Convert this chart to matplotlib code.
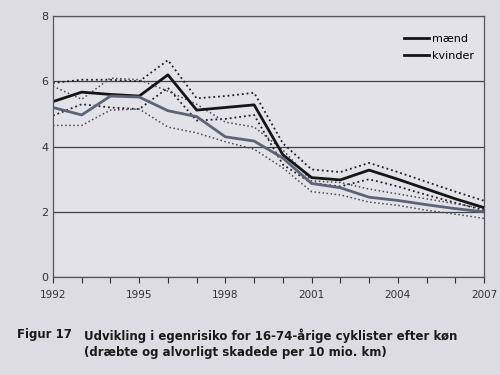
import matplotlib
matplotlib.use("Agg")
import matplotlib.pyplot as plt

# years and series
years = list(range(1992, 2008))

maend = [5.38, 5.67, 5.6, 5.55, 6.2, 5.12, 5.2, 5.28, 3.75, 3.05, 2.98, 3.28, 3.0, 2.7, 2.4, 2.13]
maend_hi = [5.95, 6.05, 6.05, 6.0, 6.65, 5.48, 5.55, 5.65, 4.1, 3.3, 3.22, 3.5, 3.22, 2.92, 2.62, 2.34]
maend_lo = [4.95, 5.3, 5.2, 5.15, 5.8, 4.8, 4.85, 4.97, 3.45, 2.88, 2.78, 3.0, 2.78, 2.52, 2.28, 2.05]

kvinder = [5.2, 4.97, 5.55, 5.52, 5.1, 4.92, 4.3, 4.17, 3.65, 2.87, 2.74, 2.45, 2.35, 2.22, 2.1, 2.0]
kvinder_hi = [5.85, 5.45, 6.1, 6.05, 5.7, 5.3, 4.75, 4.6, 3.9, 2.95, 2.9, 2.7, 2.55, 2.4, 2.25, 2.1]
kvinder_lo = [4.65, 4.65, 5.12, 5.15, 4.6, 4.42, 4.15, 3.92, 3.35, 2.62, 2.52, 2.3, 2.2, 2.05, 1.93, 1.8]

x_labels = [1992, 1995, 1998, 2001, 2004, 2007]
y_ticks = [0, 2, 4, 6, 8]

bg = '#dcdce2'
fig = plt.figure(figsize=(5, 3.75), dpi=100, facecolor=bg)
ax = fig.add_axes([0.106, 0.261, 0.862, 0.696], facecolor='#e2e2e8')

# confidence bands as dotted lines
ax.plot(years, maend_hi, ':', color='#202020', lw=1.3)
ax.plot(years, maend_lo, ':', color='#202020', lw=1.3)
ax.plot(years, kvinder_hi, ':', color='#4a4a55', lw=1.1)
ax.plot(years, kvinder_lo, ':', color='#4a4a55', lw=1.1)

# main lines
ax.plot(years, maend, '-', color='#151515', lw=2.0, label='mænd')
ax.plot(years, kvinder, '-', color='#5c6478', lw=2.0, label='kvinder')

ax.set_xlim(1992, 2007)
ax.set_ylim(0, 8)
ax.set_xticks(years)
ax.set_xticklabels([str(y) if y in x_labels else '' for y in years])
ax.set_yticks(y_ticks)
ax.yaxis.grid(True, color='#404048', lw=0.9)
ax.set_axisbelow(True)
ax.tick_params(axis='x', direction='out', length=4, pad=5, color='#333333',
               labelsize=7.5, labelcolor='#333333')
ax.tick_params(axis='y', length=0, labelsize=8, labelcolor='#333333')
for s in ax.spines.values():
    s.set_color('#555560')
    s.set_linewidth(0.9)

leg = ax.legend(loc='upper right', bbox_to_anchor=(1.0, 0.97), frameon=False,
                fontsize=8, handlelength=2.2, handletextpad=0.3, labelspacing=0.6)
for h in leg.get_lines():
    h.set_color('#151515')

fig.text(0.034, 0.125, 'Figur 17', fontsize=8.5, fontweight='bold', color='#1a1a1a', va='top')
fig.text(0.168, 0.125, 'Udvikling i egenrisiko for 16-74-årige cyklister efter køn\n'
         '(dræbte og alvorligt skadede per 10 mio. km)',
         fontsize=8.5, fontweight='bold', color='#1a1a1a', linespacing=1.3, va='top')

fig.savefig('out.png', dpi=100, facecolor=bg)
